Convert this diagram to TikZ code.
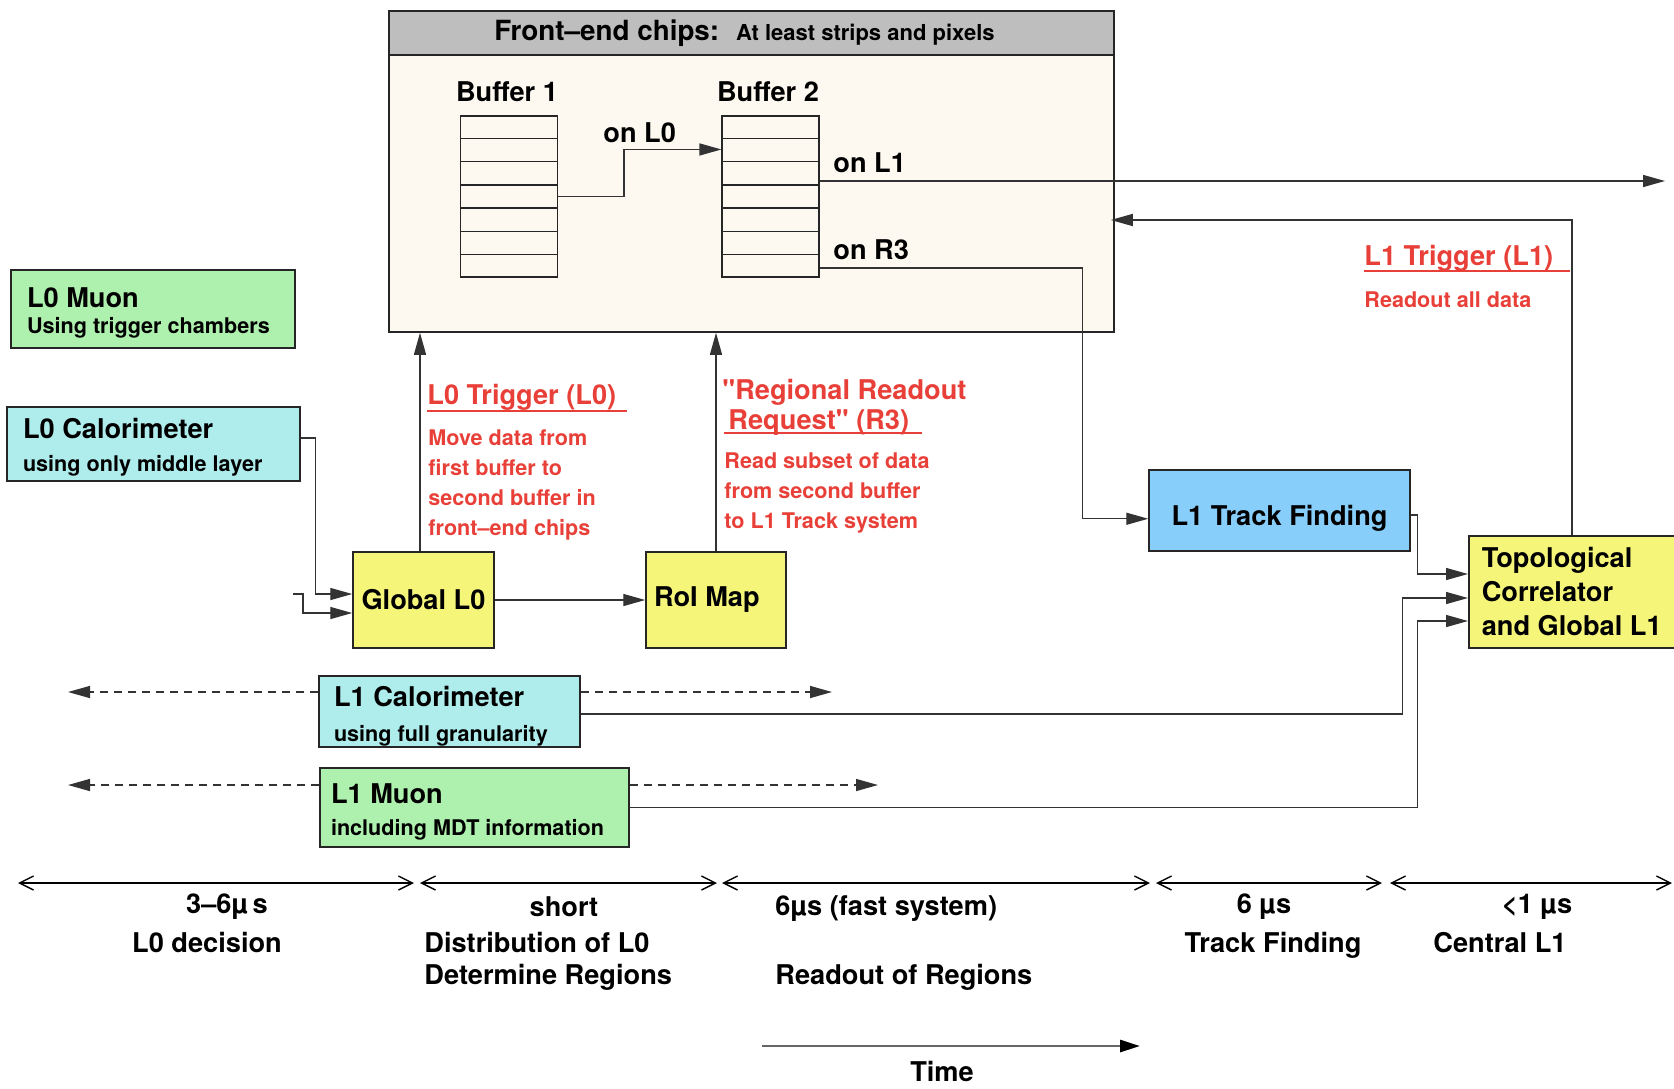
\documentclass[tikz,border=0pt]{standalone}
\usepackage{fontspec}
\setmainfont[Ligatures=TeXOff]{TeX Gyre Heros}
\usetikzlibrary{arrows.meta,calc,positioning}
\definecolor{feback}{RGB}{253,249,241}
\definecolor{fehead}{RGB}{190,190,190}
\definecolor{mugreen}{RGB}{174,240,174}
\definecolor{calcyan}{RGB}{175,237,237}
\definecolor{trigyellow}{RGB}{245,245,122}
\definecolor{trackblue}{RGB}{135,206,250}
\definecolor{trigred}{RGB}{232,64,56}
\newcommand{\bigfont}{\fontsize{13.6pt}{15pt}\selectfont\bfseries}
\newcommand{\smallfont}{\fontsize{10.8pt}{15pt}\selectfont\bfseries}

\begin{document}
\begin{tikzpicture}[x=0.5pt,y=-0.5pt,
  box/.style={rectangle,draw=black!85,line width=0.75pt,font=\bigfont},
  twoline/.style={box,align=flush left,inner ysep=1pt},
  buffer/.style={rectangle,draw=black!85,line width=0.6pt,minimum width=48.5pt,minimum height=80.5pt},
  conn/.style={draw=black!80,line width=0.7pt,-{Triangle[length=11pt,width=6pt]}},
  dashconn/.style={conn,dash pattern=on 4pt off 3pt},
  timespan/.style={draw=black,line width=0.7pt,{Straight Barb[length=7pt,width=7pt]}-{Straight Barb[length=7pt,width=7pt]}},
  bufnote/.style={font=\bigfont,anchor=west,inner sep=0pt},
  redtitle/.style={font=\bigfont,text=trigred,anchor=west,inner sep=0pt},
  redtext/.style={font=\smallfont,text=trigred,anchor=west,align=left,inner sep=0pt},
  redline/.style={draw=trigred,line width=0.7pt},
  timetext/.style={font=\bigfont,inner sep=0pt,text height=10pt,text depth=3pt},
]
\useasboundingbox (0,0) rectangle (1674,1088);

% front-end chips
\node[box,fill=feback,minimum width=362.5pt,minimum height=160.5pt] (fe) at (751.5,171.5) {};
\node[box,fill=fehead,minimum width=362.5pt,minimum height=22pt,anchor=north,text height=11pt,
  font=\fontsize{13.9pt}{15pt}\selectfont\bfseries] (feh) at (fe.north)
  {Front–end chips:\hspace{8.5pt}{\fontsize{11pt}{15pt}\selectfont At least strips and pixels}\kern7pt};
\node[buffer] (buf1) at (509,196.5) {};
\node[buffer] (buf2) at (770.5,196.5) {};
\foreach \b in {buf1,buf2}
  \foreach \i in {1,...,6}
    \draw[draw=black!85,line width=0.6pt] ($(\b.north west)!\i/7!(\b.south west)$) -- ($(\b.north east)!\i/7!(\b.south east)$);
\node[font=\bigfont] (buf1name) at (507,92) {Buffer 1};
\node[font=\bigfont] (buf2name) at (768,92) {Buffer 2};
\node[bufnote] (onL0) at (603,133) {on L0};
\node[bufnote] (onL1) at (833,163) {on L1};
\node[bufnote] (onR3) at (833,250) {on R3};

% trigger boxes
\node[twoline,fill=mugreen,minimum width=142pt,minimum height=39pt,text width=126pt,inner xsep=8pt,text height=14.3pt] (l0mu) at (153,309)
  {L0 Muon\\[-2pt]{\smallfont Using trigger chambers}};
\node[twoline,fill=calcyan,minimum width=146.5pt,minimum height=37pt,text width=130.5pt,inner xsep=8pt,text height=13.2pt] (l0cal) at (153.5,444)
  {L0 Calorimeter\\[1.5pt]{\smallfont using only middle layer}};
\node[box,fill=trigyellow,minimum width=70.5pt,minimum height=48pt] (gl0) at (423.5,600) {Global L0};
\node[box,fill=trigyellow,minimum width=70pt,minimum height=48pt,text width=62pt,inner xsep=4pt,align=flush left] (roi) at (716,600) {RoI Map};
\node[box,fill=trackblue,minimum width=130.5pt,minimum height=40.5pt,text height=18pt] (tf) at (1279.5,510.5) {L1 Track Finding};
\node[box,fill=trigyellow,anchor=west,minimum height=56pt,text width=96pt,inner xsep=6.5pt,align=flush left] (topo) at (1468,592)
  {Topological\\[2pt]Correlator\\[2pt]and Global L1};
\node[twoline,fill=calcyan,minimum width=130.5pt,minimum height=35.5pt,text width=115.5pt,inner xsep=7.5pt,inner ysep=0pt,text height=15.2pt] (l1cal) at (449.5,711.5)
  {L1 Calorimeter\\[2.5pt]{\smallfont using full granularity}};
\node[twoline,fill=mugreen,minimum width=154.5pt,minimum height=39.5pt,text width=143.5pt,inner xsep=5.5pt,text height=14pt] (l1mu) at (474.5,807.5)
  {L1 Muon\\[1pt]{\smallfont including MDT information}};

% red notes
\node[redtitle] (l0trig) at (427,397) {L0 Trigger (L0)};
\draw[redline] (427,411) -- (627,411);
\node[redtext] (l0note) at (428,485) {Move data from\\first buffer to\\second buffer in\\front–end chips};
\node[redtitle,align=left] (r3trig) at (722,407) {"Regional Readout\\\hspace*{3pt}Request" (R3)};
\draw[redline] (724,433) -- (922,433);
\node[redtext] (r3note) at (724,493) {Read subset of data\\from second buffer\\to L1 Track system};
\node[redtitle] (l1trig) at (1364,258) {L1 Trigger (L1)};
\draw[redline] (1364,271) -- (1570,271);
\node[redtext] (l1note) at (1364,300) {Readout all data};

% data flow
\coordinate (l1out) at (1665,181);
\draw[conn] (buf1.east) -- ++(66,0) |- ($(buf2.north west)!0.21!(buf2.south west)$);
\draw[conn] (buf2.east |- l1out) -- (l1out);
\draw[conn] ($(buf2.north east)!0.94!(buf2.south east)$) -- ++(263,0) |- ($(tf.north west)!0.6!(tf.south west)$);
\draw[conn] ([xshift=52pt]topo.north west) |- ([xshift=-2pt]fe.east |- 0,220);
\draw[conn] ([xshift=-1.75pt]gl0.north) -- ([xshift=-1.75pt]gl0.north |- fe.south);
\draw[conn] (roi.north) -- (roi.north |- fe.south);
\draw[conn] (gl0.east) -- (roi.west);
\draw[conn] ([yshift=3pt]l0cal.east) -- ++(15,0) |- ([yshift=3pt]gl0.west);
\coordinate (l0in) at (293,594);
\draw[conn] (l0in) -- ++(10,0) |- ([yshift=-6.5pt]gl0.west);
\draw[conn] ([yshift=-2.25pt]tf.east) -- ++(7,0) |- ([yshift=9pt]topo.west);
\draw[conn] ([yshift=-1.25pt]l1cal.east) -- ++(822,0) |- ([yshift=-3pt]topo.west);
\draw[conn] (l1mu.east) -- ++(788,0) |- ([yshift=-14.5pt]topo.west);

% dashed spread
\coordinate (l1calL) at (68,692);
\coordinate (l1calR) at (832,692);
\coordinate (l1muL) at (68,785);
\coordinate (l1muR) at (878,785);
\draw[dashconn] (l1cal.west |- l1calL) -- (l1calL);
\draw[dashconn] (l1cal.east |- l1calR) -- (l1calR);
\draw[dashconn] (l1mu.west |- l1muL) -- (l1muL);
\draw[dashconn] (l1mu.east |- l1muR) -- (l1muR);

% time line
\foreach \a/\b in {18/414,420/717,722/1150,1156/1382,1390/1672}
  \draw[timespan] (\a,883) -- (\b,883);
\node[timetext] (t1a) at (227,906) {3–6µ\,s};
\node[timetext] (t1b) at (207,945) {L0 decision};
\node[timetext] (t2a) at (564,909) {short};
\node[timetext,anchor=west] (t2b) at (424,945) {Distribution of L0};
\node[timetext,anchor=west] (t2c) at (424,977) {Determine Regions};
\node[timetext,anchor=west] (t3a) at (775,908) {6µs (fast system)};
\node[timetext,anchor=west] (t3b) at (775,977) {Readout of Regions};
\node[timetext] (t4a) at (1264,906) {6 µs};
\node[timetext] (t4b) at (1273,945) {Track Finding};
\node[timetext] (t5a) at (1537,906) {<1 µs};
\node[timetext,anchor=west] (t5b) at (1433,945) {Central L1};
\coordinate (time0) at (762,1046);
\coordinate (time1) at (1140,1046);
\draw[draw=black!60,line width=1.4pt,-{Triangle[length=10pt,width=6pt,color=black]}] (time0) -- (time1);
\node[timetext,text depth=0pt] (timename) at (942,1071) {Time};
\end{tikzpicture}
\end{document}
